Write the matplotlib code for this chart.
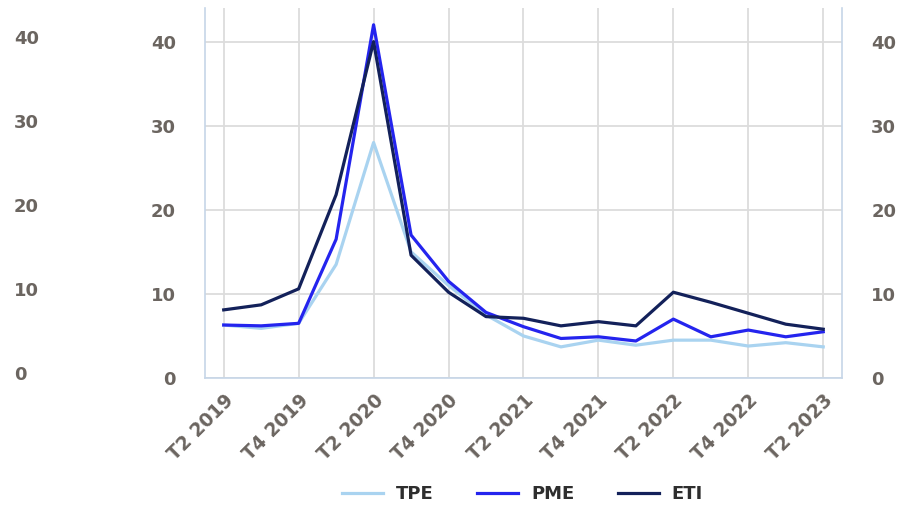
import matplotlib.pyplot as plt
import matplotlib.transforms as mtransforms

quarters = ["T2 2019", "T3 2019", "T4 2019", "T1 2020", "T2 2020", "T3 2020",
            "T4 2020", "T1 2021", "T2 2021", "T3 2021", "T4 2021", "T1 2022",
            "T2 2022", "T3 2022", "T4 2022", "T1 2023", "T2 2023"]
tpe = [6.3, 5.9, 6.5, 13.5, 28.0, 15.0, 11.0, 7.5, 5.0, 3.7, 4.5, 3.9,
       4.5, 4.5, 3.8, 4.2, 3.7]
pme = [6.3, 6.2, 6.5, 16.5, 42.0, 17.0, 11.5, 7.8, 6.1, 4.7, 4.9, 4.4,
       7.0, 4.9, 5.7, 4.9, 5.5]
eti = [8.1, 8.7, 10.6, 21.8, 40.0, 14.6, 10.2, 7.3, 7.1, 6.2, 6.7, 6.2,
       10.2, 9.0, 7.7, 6.4, 5.8]
yticks = [0, 10, 20, 30, 40]

label_color = "#6b6560"
spine_color = "#c6d6e8"
grid_color = "#dcdcdc"

fig = plt.figure(figsize=(9.13, 5.05), dpi=100)
ax = fig.add_axes([0.2245, 0.2515, 0.6977, 0.7327])
x = list(range(len(quarters)))

ax.plot(x, tpe, color="#a9d3f0", lw=2.3, label="TPE", zorder=3)
ax.plot(x, pme, color="#2424ee", lw=2.3, label="PME", zorder=4)
ax.plot(x, eti, color="#13215a", lw=2.3, label="ETI", zorder=5)

ax.set_xlim(-0.5, len(quarters) - 0.5)
ax.set_ylim(0, 44)
ax.set_yticks(yticks)
ax.set_xticks(x[::2])
ax.set_xticklabels(quarters[::2], rotation=45, ha="right",
                   rotation_mode="anchor")
ax.grid(True, color=grid_color, lw=1.3, zorder=0)
ax.set_axisbelow(True)

for side in ["left", "right", "bottom"]:
    ax.spines[side].set_color(spine_color)
    ax.spines[side].set_linewidth(1.2)
ax.spines["top"].set_visible(False)

ax.tick_params(axis="y", length=0, pad=21, labelsize=13, labelcolor=label_color,
               left=True, right=True, labelleft=True, labelright=True)
ax.tick_params(axis="x", length=0, pad=9, labelsize=13.5, labelcolor=label_color)
for lab in ax.get_xticklabels():
    lab.set_fontweight("bold")
for t in ax.yaxis.get_major_ticks():
    t.label1.set_fontweight("bold")
    t.label2.set_fontweight("bold")

# outer left scale
trans = mtransforms.blended_transform_factory(fig.transFigure, ax.transData)
for v in yticks:
    ax.text(0.015, v + 0.3, str(v), transform=trans, ha="left", va="center",
            fontsize=13, color=label_color, fontweight="bold", clip_on=False)

fig.legend(loc="lower center", bbox_to_anchor=(0.572, -0.028), ncol=3,
           frameon=False, handlelength=2.3, handletextpad=0.7,
           columnspacing=2.4,
           prop={"size": 13, "weight": "bold"}, labelcolor="#2e2e2e")

fig.savefig("out.png", dpi=100, facecolor="white")
